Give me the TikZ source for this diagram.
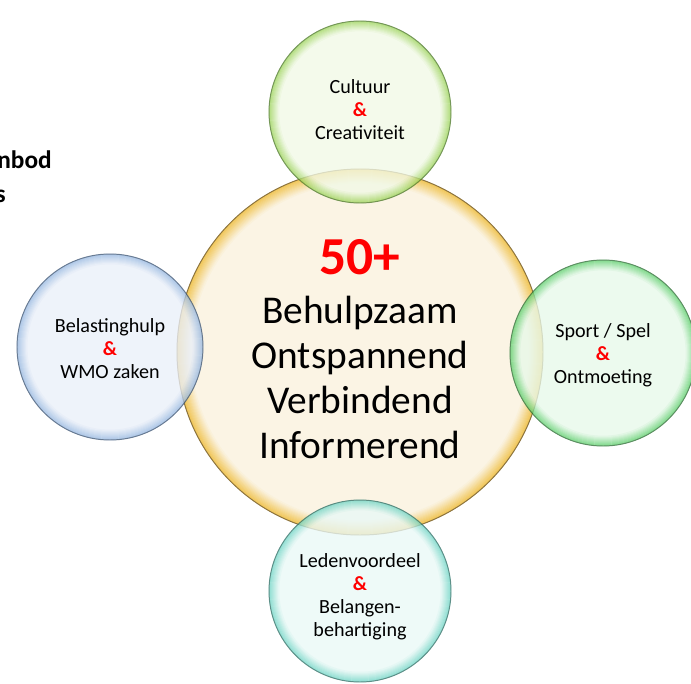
\documentclass[tikz,border=0pt]{standalone}
\usepackage{fontspec}
\setmainfont{Carlito}
\usepackage{tikz}
\definecolor{inhub}{HTML}{FBF4E4}
\definecolor{rimhub}{HTML}{F0C555}
\definecolor{linehub}{HTML}{8C7440}
\definecolor{inculture}{HTML}{F1F9E6}
\definecolor{rimculture}{HTML}{9CD35A}
\definecolor{lineculture}{HTML}{4E7A2A}
\definecolor{intax}{HTML}{E9EFF8}
\definecolor{rimtax}{HTML}{96B7E0}
\definecolor{linetax}{HTML}{3E5675}
\definecolor{insport}{HTML}{E7F8E9}
\definecolor{rimsport}{HTML}{5ECF6C}
\definecolor{linesport}{HTML}{2E6E36}
\definecolor{inmember}{HTML}{E9F8F6}
\definecolor{rimmember}{HTML}{70D5C5}
\definecolor{linemember}{HTML}{2F6F66}
\definecolor{amp}{rgb}{1.0, 0.0, 0.0}

\newcommand{\andsign}{\textcolor{amp}{\bfseries\&}}

\begin{document}
\begin{tikzpicture}[
    x=0.025cm, y=-0.025cm,
    label/.style={
        circle,
        inner sep=0pt,
        align=center,
        text=black,
        font=\fontsize{14.3}{16.4}\selectfont
    }
]
    \useasboundingbox (0,0) rectangle (691,684);

    % --- title fragment, cut off by the left edge ---
    \node(title-a)[anchor=base east, inner sep=0pt, font=\fontsize{18}{22}\selectfont\bfseries] at (52,168) {nbod};
    \node(title-b)[anchor=base east, inner sep=0pt, font=\fontsize{18}{22}\selectfont\bfseries] at (6,202) {s};

    % --- bubbles: pale fill, rim fading inwards, thin dark outline ---
    % hub is opaque, satellites let the hub rim show through
    \foreach \name/\cx/\cy/\r/\w/\op in {hub/360/352/183/13/1.0, culture/360/112/91/9/0.78,
            tax/110/347/93/9/0.78, sport/603/353/93/9/0.78, member/360/591/91/9/0.78} {
        \begin{scope}[transparency group, opacity=\op]
            \fill[in\name] (\cx,\cy) circle[radius=\r];
            \foreach \k [evaluate=\k as \mix using int(100-\k*100/(\w+1))] in {0,...,\w}
                \draw[rim\name!\mix!in\name, line width=1pt] (\cx,\cy) circle[radius=\r-0.6-\k];
            \draw[line\name, line width=0.7pt] (\cx,\cy) circle[radius=\r];
        \end{scope}
    }

    % --- texts ---
    \node(hub)[label, font=\fontsize{28}{32}\selectfont] at (360,349) {
        {\fontsize{38}{40}\selectfont\bfseries\textcolor{amp}{50+}}\\[3pt]
        Behulpzaam\\
        Ontspannend\\
        Verbindend\\
        Informerend
    };

    \node(culture)[label] at (360,110) {Cultuur\\ \andsign\\ Creativiteit};
    \node(tax)[label] at (110,349) {Belastinghulp\\ \andsign\\ WMO zaken};
    \node(sport)[label] at (603,355) {Sport / Spel\\ \andsign\\ Ontmoeting};
    \node(member)[label] at (360,597) {Ledenvoordeel\\ \andsign\\ Belangen-\\ behartiging};
\end{tikzpicture}
\end{document}
